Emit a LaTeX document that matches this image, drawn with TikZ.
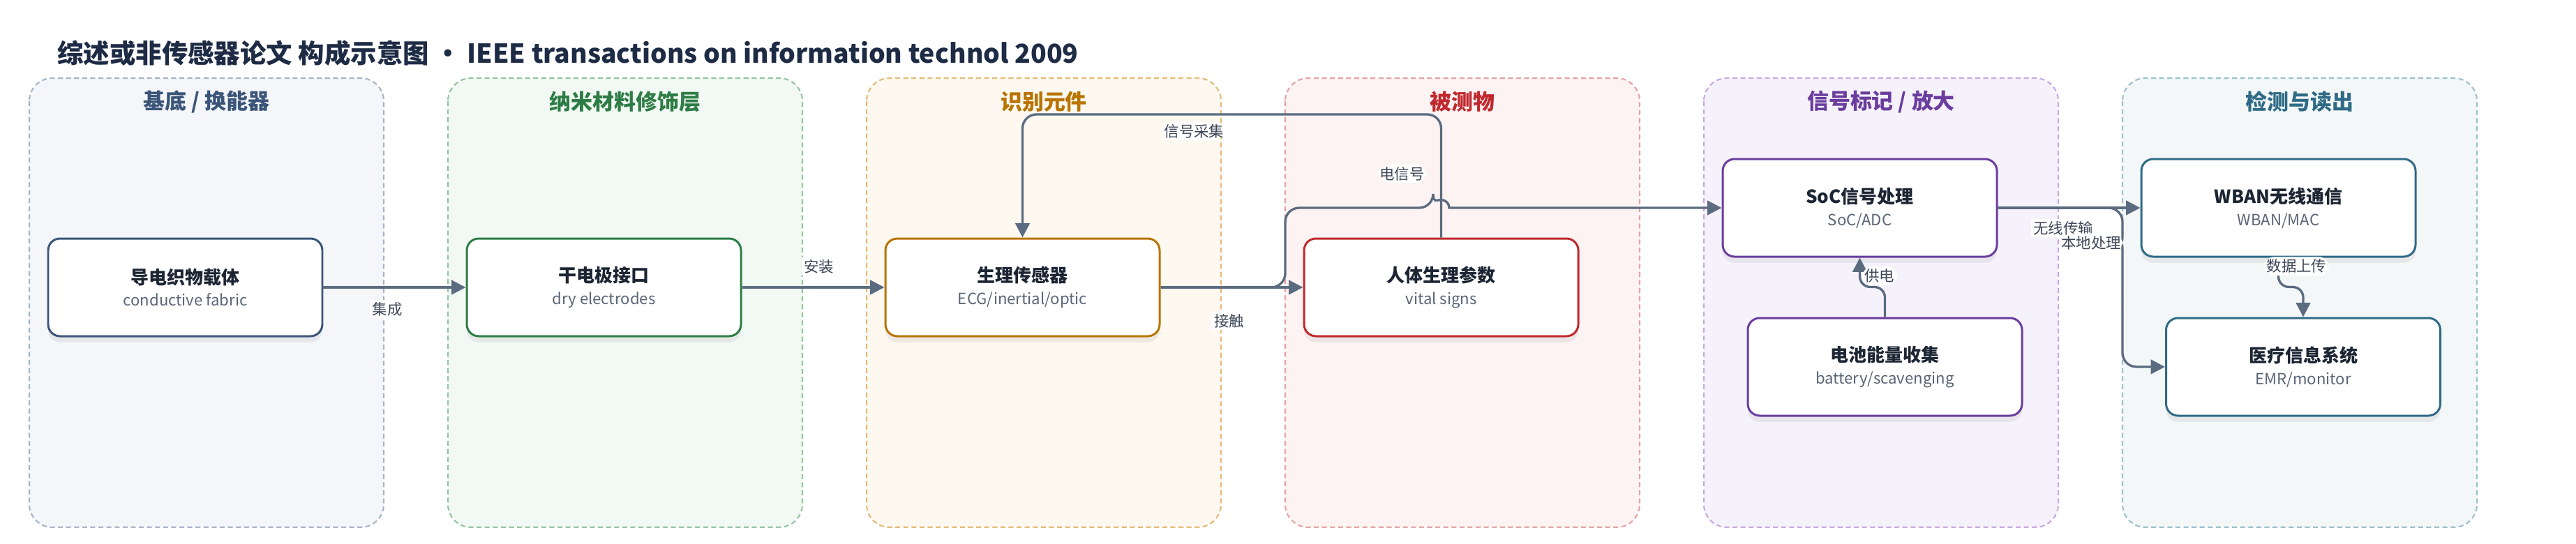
\documentclass[tikz,border=0pt]{standalone}
\usepackage{fontspec}
\setmainfont{Noto Sans CJK SC}
\usetikzlibrary{arrows.meta,shadows,positioning}

% colours
\definecolor{titlecol}{HTML}{1E2B45}
\definecolor{wirecol}{HTML}{5B6B80}
\definecolor{textcol}{HTML}{1C2533}
\definecolor{subcol}{HTML}{5A6577}
\definecolor{lblcol}{HTML}{3D4656}
\definecolor{lnA}{HTML}{A7B4C7}\definecolor{fiA}{HTML}{F4F6FA}\definecolor{hdA}{HTML}{3B5578}
\definecolor{lnB}{HTML}{93C4A0}\definecolor{fiB}{HTML}{F2F8F3}\definecolor{hdB}{HTML}{2E7D46}
\definecolor{lnC}{HTML}{E5B978}\definecolor{fiC}{HTML}{FDF8F0}\definecolor{hdC}{HTML}{B87300}
\definecolor{lnD}{HTML}{E5A3A3}\definecolor{fiD}{HTML}{FDF3F3}\definecolor{hdD}{HTML}{C0282D}
\definecolor{lnE}{HTML}{C9A8E2}\definecolor{fiE}{HTML}{F6F2FB}\definecolor{hdE}{HTML}{6A3D9E}
\definecolor{lnF}{HTML}{9CC0CC}\definecolor{fiF}{HTML}{F3F7F8}\definecolor{hdF}{HTML}{2F6B86}

\tikzset{
  lane/.style={draw=#1, dash pattern=on 2pt off 1.3pt, line width=0.6pt, rounded corners=0.33cm},
  lanehead/.style={font=\fontsize{8.8}{10}\selectfont\bfseries},
  box/.style={draw=#1, fill=white, line width=0.85pt, rounded corners=0.17cm,
    minimum width=3.93cm, minimum height=1.40cm, align=center, inner sep=0pt,
    drop shadow={opacity=0.12, shadow xshift=0pt, shadow yshift=-2.5pt}},
  wire/.style={draw=wirecol, line width=0.95pt, -{Triangle[length=5.8pt,width=5.8pt]}},
  lbl/.style={fill=white, inner sep=1pt, text=lblcol, font=\fontsize{6.1}{7}\selectfont}
}

\newcommand{\boxtext}[2]{{\fontsize{7.4}{9}\selectfont\bfseries\color{textcol}#1}\\[-3pt]{\fontsize{6.3}{7.5}\selectfont\color{subcol}#2}}

\begin{document}
\begin{tikzpicture}
    \useasboundingbox (0,0) rectangle (36.92,-7.79);

    % Title
    \node[anchor=west, text=titlecol, font=\fontsize{10.65}{12}\selectfont\bfseries] (title) at (0.70,-0.76)
        {综述或非传感器论文 构成示意图 · IEEE transactions on information technol 2009};

    % Lanes
    \foreach \k/\hdr [count=\n from 0] in {A/{基底 / 换能器}, B/纳米材料修饰层, C/识别元件, D/被测物, E/{信号标记 / 放大}, F/检测与读出} {
        \draw[lane=ln\k, fill=fi\k] (0.42+6*\n,-1.12) rectangle ++(5.08,-6.44);
        \node[lanehead, text=hd\k] (head\k) at (2.96+6*\n,-1.46) {\hdr};
    }

    % Components
    \node[box=hdA] (fabric) at (2.655,-4.12) {\boxtext{导电织物载体}{conductive fabric}};
    \node[box=hdB] (electrode) at (8.655,-4.12) {\boxtext{干电极接口}{dry electrodes}};
    \node[box=hdC] (sensor) at (14.655,-4.12) {\boxtext{生理传感器}{ECG/inertial/optic}};
    \node[box=hdD] (human) at (20.655,-4.12) {\boxtext{人体生理参数}{vital signs}};
    \node[box=hdE] (soc) at (26.655,-2.98) {\boxtext{SoC信号处理}{SoC/ADC}};
    \node[box=hdE] (battery) at (27.015,-5.26) {\boxtext{电池能量收集}{battery/scavenging}};
    \node[box=hdF] (wban) at (32.655,-2.98) {\boxtext{WBAN无线通信}{WBAN/MAC}};
    \node[box=hdF] (emr) at (33.01,-5.26) {\boxtext{医疗信息系统}{EMR/monitor}};

    % Straight links
    \draw[wire] (fabric) -- (electrode) node[lbl, pos=0.45, yshift=-0.31cm] (lbInt) {集成};
    \draw[wire] (electrode) -- (sensor) node[lbl, pos=0.54, yshift=0.30cm] (lbMnt) {安装};
    \draw[wire] (sensor) -- (human) node[lbl, pos=0.48, yshift=-0.48cm] (lbTch) {接触};
    \draw[wire] (soc) -- (wban) node[lbl, pos=0.46, yshift=-0.29cm] (lbWls) {无线传输};

    % Feedback from body to sensor
    \draw[wire, rounded corners=0.2cm] (human.north) -- (20.655,-1.64)
        -- (14.655,-1.64) node[lbl, pos=0.59, yshift=-0.24cm] (lbAcq) {信号采集}
        -- (sensor.north);

    % Sensor to SoC, hopping over the feedback line
    \draw[wire, rounded corners=0.2cm] (sensor.east) -- (18.42,-4.12) -- (18.42,-2.98)
        -- (20.54,-2.98) node[lbl, pos=0.79, yshift=0.49cm] (lbSig) {电信号}
        {[sharp corners] arc[start angle=180, end angle=0, radius=0.115]} -- (soc.west);

    % Power and readout
    \draw[wire, rounded corners=0.15cm] (battery.north) -- ++(0,0.43) -| (soc.south)
        node[lbl, pos=0.69, right=0.5pt] (lbPwr) {供电};
    \draw[wire, rounded corners=0.2cm] (soc.east) -- (30.42,-2.98)
        node[lbl, pos=0.75, yshift=-0.5cm] (lbLoc) {本地处理}
        -- (30.42,-5.26) -- (emr.west);
    \draw[wire, rounded corners=0.15cm] (wban.south) -- ++(0,-0.42)
        node[lbl, pos=0.29, xshift=0.26cm] (lbUp) {数据上传} -| (emr.north);
\end{tikzpicture}
\end{document}
